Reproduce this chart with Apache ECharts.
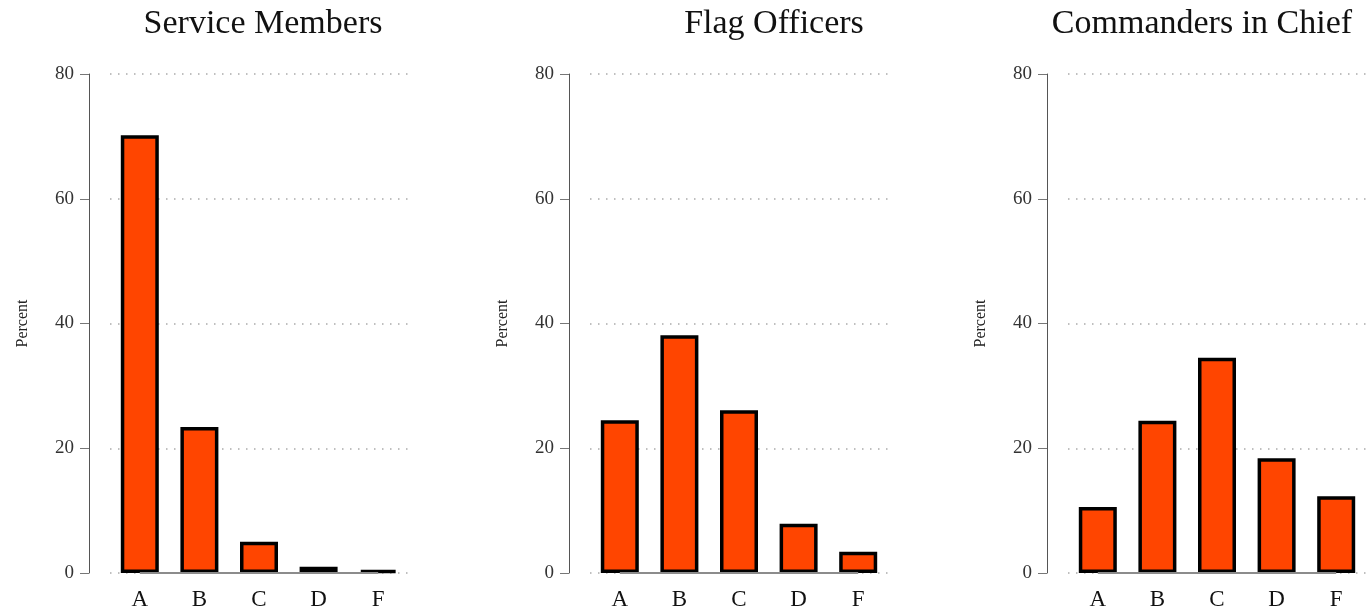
<!DOCTYPE html>
<html>
<head>
<meta charset="utf-8">
<script src="https://cdn.jsdelivr.net/npm/echarts@6/dist/echarts.min.js"></script>
<style>
  html, body { margin: 0; padding: 0; background: #fff; }
  #chart { width: 1371px; height: 611px; }
</style>
</head>
<body>
<div id="chart"></div>
<script>
const grades = ['A', 'B', 'C', 'D', 'F']
const panelTitles = ['Service Members', 'Flag Officers', 'Commanders in Chief']
const serviceMembers = [70.2, 23.4, 5.0, 1.0, 0.5]
const flagOfficers = [24.5, 38.1, 26.1, 7.9, 3.4]
const commanders = [10.6, 24.4, 34.5, 18.4, 12.3]
const yTicks = [0, 20, 40, 60, 80]

const panelData = [serviceMembers, flagOfficers, commanders]
const gridLefts = [110, 590, 1068]
const gridWidth = 298
const titleCenters = [258, 769, 1197]
const serif = '"Liberation Serif", "DejaVu Serif", serif'

const chart = echarts.init(document.getElementById('chart'))

const grids = gridLefts.map(left => ({
  left: left,
  width: gridWidth,
  top: 74,
  bottom: 38
}))

const xAxes = grids.map((g, i) => ({
  type: 'category',
  gridIndex: i,
  data: grades,
  boundaryGap: true,
  axisLine: { show: false },
  axisTick: { show: false },
  axisLabel: { color: '#111', fontFamily: serif, fontSize: 23, margin: 15 }
}))

const yAxes = grids.map((g, i) => ({
  type: 'value',
  gridIndex: i,
  min: yTicks[0],
  max: yTicks[yTicks.length - 1],
  interval: 20,
  offset: 21,
  name: 'Percent',
  nameLocation: 'middle',
  nameGap: 58,
  nameRotate: 90,
  nameTextStyle: { color: '#222', fontFamily: serif, fontSize: 16 },
  axisLine: { show: true, lineStyle: { color: '#555', width: 1 } },
  axisTick: { show: true, length: 9, lineStyle: { color: '#777' } },
  axisLabel: { color: '#333', fontFamily: serif, fontSize: 19, margin: 15 },
  splitLine: {
    show: true,
    lineStyle: { color: '#aaa', width: 1.5, type: [1.5, 6.5] }
  }
}))

const series = panelData.map((vals, i) => ({
  type: 'bar',
  xAxisIndex: i,
  yAxisIndex: i,
  data: vals,
  barWidth: 38,
  itemStyle: { color: '#ff4500', borderColor: '#000', borderWidth: 3.5 },
  markLine: {
    silent: true,
    symbol: 'none',
    label: { show: false },
    lineStyle: { color: '#8c8c8c', width: 2, type: 'solid' },
    data: [[{ coord: [grades[0], 0] }, { coord: [grades[grades.length - 1], 0] }]]
  }
}))

chart.setOption({
  animation: false,
  title: panelTitles.map((t, i) => ({
    text: t,
    left: titleCenters[i],
    top: 2,
    textAlign: 'center',
    textStyle: { color: '#111', fontFamily: serif, fontSize: 34, fontWeight: 'normal' }
  })),
  grid: grids,
  xAxis: xAxes,
  yAxis: yAxes,
  series: series
})
</script>
</body>
</html>
